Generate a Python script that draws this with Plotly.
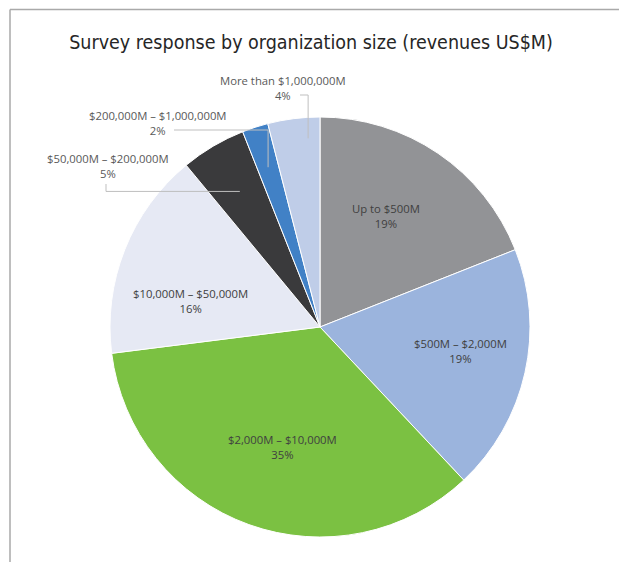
import math
import plotly.graph_objects as go

# Survey response share by organization size (revenues US$M)
categories = [
    "Up to $500M",
    "$500M – $2,000M",
    "$2,000M – $10,000M",
    "$10,000M – $50,000M",
    "$50,000M – $200,000M",
    "$200,000M – $1,000,000M",
    "More than $1,000,000M",
]
shares = [19, 19, 35, 16, 5, 2, 4]
colors = ["#929396", "#9BB4DD", "#7BC142", "#E6E9F4", "#3A3A3C", "#4181C6", "#BFCDE8"]

W, H = 619, 562
CX, CY, R = 320, 327, 210          # pie centre and radius in pixels
FONT = "Open Sans, Lato, sans-serif"


def to_paper(x, y):
    return x / W, 1 - y / H


def slice_span(i):
    total = sum(shares)
    start = sum(shares[:i]) / total * 360
    end = sum(shares[: i + 1]) / total * 360
    return start, end


def slice_point(i, frac, rf):
    """Point inside slice i: frac along its arc, rf of the radius."""
    a0, a1 = slice_span(i)
    a = math.radians(a0 + (a1 - a0) * frac)
    return CX + rf * R * math.sin(a), CY - rf * R * math.cos(a)


fig = go.Figure(
    go.Pie(
        labels=categories,
        values=shares,
        sort=False,
        direction="clockwise",
        rotation=0,
        textinfo="none",
        hoverinfo="label+percent",
        marker=dict(colors=colors, line=dict(color="white", width=1)),
        domain=dict(
            x=[(CX - R) / W, (CX + R) / W],
            y=[(H - CY - R) / H, (H - CY + R) / H],
        ),
        showlegend=False,
    )
)

annotations = []
shapes = []


def label(x, y, text, color):
    px, py = to_paper(x, y)
    return dict(
        x=px, y=py, xref="paper", yref="paper", showarrow=False,
        xanchor="center", yanchor="middle",
        text=text, align="center",
        font=dict(family=FONT, size=11.3, color=color),
    )


# labels placed inside the larger slices
inner = {0: (0.45, 0.615), 1: (0.46, 0.677), 2: (0.48, 0.60), 3: (0.32, 0.63)}
for i, (frac, rf) in inner.items():
    x, y = slice_point(i, frac, rf)
    annotations.append(label(x, y, f"{categories[i]}<br>{shares[i]}%", "#404040"))

# labels outside the small slices, with elbow leader lines
outer = {
    6: dict(label=(283, 88), start=(300, 95), anchor=(0.75, 0.90), elbow="hv"),
    5: dict(label=(158, 123), start=(174, 130), anchor=(0.50, 0.80), elbow="hv"),
    4: dict(label=(108, 166), start=(106, 184), anchor=(0.50, 0.75), elbow="vh"),
}
for i, o in outer.items():
    annotations.append(label(*o["label"], f"{categories[i]}<br>{shares[i]}%", "#595959"))
    sx, sy = o["start"]
    ax, ay = slice_point(i, *o["anchor"])
    mid = (ax, sy) if o["elbow"] == "hv" else (sx, ay)
    pts = [to_paper(sx, sy), to_paper(*mid), to_paper(ax, ay)]
    path = "M {} {} L {} {} L {} {}".format(*[c for p in pts for c in p])
    shapes.append(dict(type="path", xref="paper", yref="paper", path=path,
                       line=dict(color="#BFBFBF", width=1)))

# frame lines along the top and left edges
shapes.append(dict(type="line", xref="paper", yref="paper",
                   x0=10 / W, x1=1, y0=1 - 9.5 / H, y1=1 - 9.5 / H,
                   line=dict(color="#A9A9A9", width=1.5)))
shapes.append(dict(type="line", xref="paper", yref="paper",
                   x0=10 / W, x1=10 / W, y0=0, y1=1 - 9.5 / H,
                   line=dict(color="#A9A9A9", width=1.5)))

fig.update_layout(
    width=W, height=H,
    margin=dict(l=0, r=0, t=0, b=0),
    paper_bgcolor="white", plot_bgcolor="white",
    title=dict(
        text="Survey response by organization size (revenues US$M)",
        x=311 / W, xanchor="center", xref="paper",
        y=1 - 42 / H, yanchor="middle", yref="container",
        font=dict(family="DejaVu Sans Condensed, Liberation Sans Narrow, Roboto Condensed, sans-serif",
                  size=19.5, color="#262626"),
    ),
    annotations=annotations,
    shapes=shapes,
)

fig.write_html("out.html")
